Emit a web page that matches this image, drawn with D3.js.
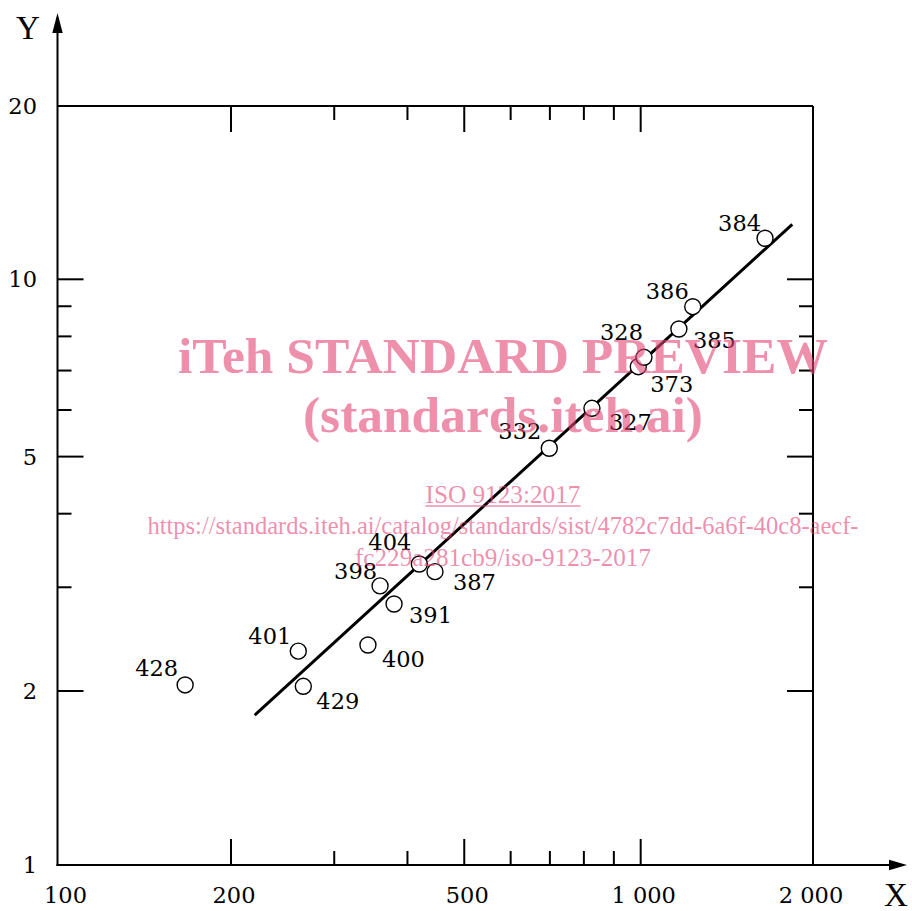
<!DOCTYPE html>
<html>
<head>
<meta charset="utf-8">
<script src="https://cdn.jsdelivr.net/npm/d3@7"></script>
<style>
    body { margin: 0; background: #fff; }
    svg { display: block; }
    .num { font-family: "DejaVu Serif", serif; font-size: 22.5px; fill: #000; }
    .axis-name { font-family: "Liberation Serif", serif; font-size: 33px; fill: #000; }
    .wm { fill: rgb(227, 68, 117); fill-opacity: 0.6; font-family: "Liberation Serif", serif; }
</style>
</head>
<body>
<svg id="chart" width="912" height="911"></svg>
<script>
// data (log-log)
const pointIds = ["428", "401", "429", "400", "398", "391", "404", "387", "332", "327", "373", "328", "385", "386", "384"];
const pointX = [167, 260.5, 265.7, 342.5, 359.2, 379.5, 419.1, 445.7, 698.3, 825.7, 990.6, 1013, 1162, 1227, 1630];
const pointY = [2.048, 2.337, 2.037, 2.394, 3.016, 2.81, 3.286, 3.189, 5.166, 6.039, 7.106, 7.372, 8.234, 8.984, 11.74];

const fitX = [219.5, 1814];
const fitY = [1.819, 12.4];

const xMajor = [200, 500, 1000];
const xMinor = [300, 400, 600, 700, 800, 900];
const yMajor = [2, 5, 10];
const yMinor = [3, 4, 6, 7, 8, 9];
const xLabelValues = [100, 200, 500, 1000, 2000];
const xLabelText = ["100", "200", "500", "1 000", "2 000"];
const yLabelValues = [1, 2, 5, 10, 20];
const yLabelText = ["1", "2", "5", "10", "20"];

// label offsets from circle centre (negative dx = text ends left of point)
const labelOffsets = [[-7, -9], [-7, -7], [13, 23], [14, 22], [-3, -7], [15, 19], [-8, -14], [18, 18],
    [-8, -9], [17, 22], [12, 25], [-1, -17], [14, 19], [-4, -8], [-4, -7]];

const svg = d3.select("#chart");
const frameL = 57.5, frameR = 813, frameT = 106, frameB = 865;

const x = d3.scaleLog().domain([100, 2000]).range([54.6, 817.1]);
const y = d3.scaleLog().domain([1, 20]).range([868.3, 102]);

const black = "#000";
const g = svg.append("g");

// frame: top + right, axes left + bottom with arrows
g.append("line").attr("x1", frameL).attr("x2", frameR).attr("y1", frameT).attr("y2", frameT)
    .attr("stroke", black).attr("stroke-width", 2);
g.append("line").attr("x1", frameR).attr("x2", frameR).attr("y1", frameT).attr("y2", frameB)
    .attr("stroke", black).attr("stroke-width", 2);
g.append("line").attr("x1", frameL).attr("x2", frameL).attr("y1", frameB + 1).attr("y2", 30)
    .attr("stroke", black).attr("stroke-width", 2);
g.append("line").attr("x1", frameL - 1).attr("x2", 892).attr("y1", frameB).attr("y2", frameB)
    .attr("stroke", black).attr("stroke-width", 2);
g.append("path").attr("d", `M${frameL},13 L${frameL - 5.2},33 L${frameL + 5.2},33 Z`).attr("fill", black);
g.append("path").attr("d", `M907,${frameB} L889,${frameB - 5.2} L889,${frameB + 5.2} Z`).attr("fill", black);

g.append("text").attr("class", "axis-name").attr("x", 28).attr("y", 39).attr("text-anchor", "middle").text("Y");
g.append("text").attr("class", "axis-name").attr("x", 896).attr("y", 906).attr("text-anchor", "middle").text("X");

// ticks, pointing inward on all four sides
function xTicks(vals, len) {
    g.selectAll(null).data(vals).join("line")
        .attr("x1", d => x(d)).attr("x2", d => x(d))
        .attr("y1", frameB).attr("y2", frameB - len)
        .attr("stroke", black).attr("stroke-width", 2);
    g.selectAll(null).data(vals).join("line")
        .attr("x1", d => x(d)).attr("x2", d => x(d))
        .attr("y1", frameT).attr("y2", frameT + len)
        .attr("stroke", black).attr("stroke-width", 2);
}
function yTicks(vals, len) {
    g.selectAll(null).data(vals).join("line")
        .attr("x1", frameL).attr("x2", frameL + len)
        .attr("y1", d => y(d)).attr("y2", d => y(d))
        .attr("stroke", black).attr("stroke-width", 2);
    g.selectAll(null).data(vals).join("line")
        .attr("x1", frameR).attr("x2", frameR - len)
        .attr("y1", d => y(d)).attr("y2", d => y(d))
        .attr("stroke", black).attr("stroke-width", 2);
}
xTicks(xMajor, 26);
xTicks(xMinor, 14);
yTicks(yMajor, 26);
yTicks(yMinor, 14);

g.selectAll(".xlab").data(xLabelValues).join("text")
    .attr("class", "num")
    .attr("x", d => Math.min(Math.max(x(d) + 3, frameL + 8), frameR - 2))
    .attr("y", 903)
    .attr("text-anchor", "middle")
    .text((d, i) => xLabelText[i]);

g.selectAll(".ylab").data(yLabelValues).join("text")
    .attr("class", "num")
    .attr("x", 37)
    .attr("y", d => Math.min(Math.max(y(d), frameT), frameB) + 8)
    .attr("text-anchor", "end")
    .text((d, i) => yLabelText[i]);

// regression line
g.append("line")
    .attr("x1", x(fitX[0])).attr("y1", y(fitY[0]))
    .attr("x2", x(fitX[1])).attr("y2", y(fitY[1]))
    .attr("stroke", black).attr("stroke-width", 3);

const pts = pointIds.map((id, i) => ({ id, vx: pointX[i], vy: pointY[i], off: labelOffsets[i] }));

g.selectAll(".pt").data(pts).join("circle")
    .attr("cx", d => x(d.vx)).attr("cy", d => y(d.vy))
    .attr("r", 8)
    .attr("fill", "#fff").attr("stroke", black).attr("stroke-width", 1.4);

g.selectAll(".plab").data(pts).join("text")
    .attr("class", "num")
    .attr("x", d => x(d.vx) + d.off[0])
    .attr("y", d => y(d.vy) + d.off[1])
    .attr("text-anchor", d => d.off[0] < 0 ? "end" : "start")
    .text(d => d.id);

// watermark on top
const wm = svg.append("g");
wm.append("text").attr("class", "wm").attr("x", 503).attr("y", 373)
    .attr("text-anchor", "middle").attr("font-weight", "bold").attr("font-size", 50)
    .attr("textLength", 650).attr("lengthAdjust", "spacingAndGlyphs")
    .text("iTeh STANDARD PREVIEW");
wm.append("text").attr("class", "wm").attr("x", 503).attr("y", 432)
    .attr("text-anchor", "middle").attr("font-weight", "bold").attr("font-size", 50)
    .attr("textLength", 400).attr("lengthAdjust", "spacingAndGlyphs")
    .text("(standards.iteh.ai)");
wm.append("text").attr("class", "wm").attr("x", 503).attr("y", 503)
    .attr("text-anchor", "middle").attr("font-size", 25)
    .attr("textLength", 155).attr("lengthAdjust", "spacingAndGlyphs")
    .text("ISO 9123:2017");
wm.append("line").attr("x1", 425.5).attr("x2", 580.5).attr("y1", 506).attr("y2", 506)
    .attr("stroke", "rgb(227, 68, 117)").attr("stroke-opacity", 0.6).attr("stroke-width", 1.3);
wm.append("text").attr("class", "wm").attr("x", 503).attr("y", 534)
    .attr("text-anchor", "middle").attr("font-size", 25)
    .attr("textLength", 711).attr("lengthAdjust", "spacingAndGlyphs")
    .text("https://standards.iteh.ai/catalog/standards/sist/4782c7dd-6a6f-40c8-aecf-");
wm.append("text").attr("class", "wm").attr("x", 503).attr("y", 566)
    .attr("text-anchor", "middle").attr("font-size", 25)
    .attr("textLength", 296).attr("lengthAdjust", "spacingAndGlyphs")
    .text("fc229a281cb9/iso-9123-2017");
</script>
</body>
</html>
